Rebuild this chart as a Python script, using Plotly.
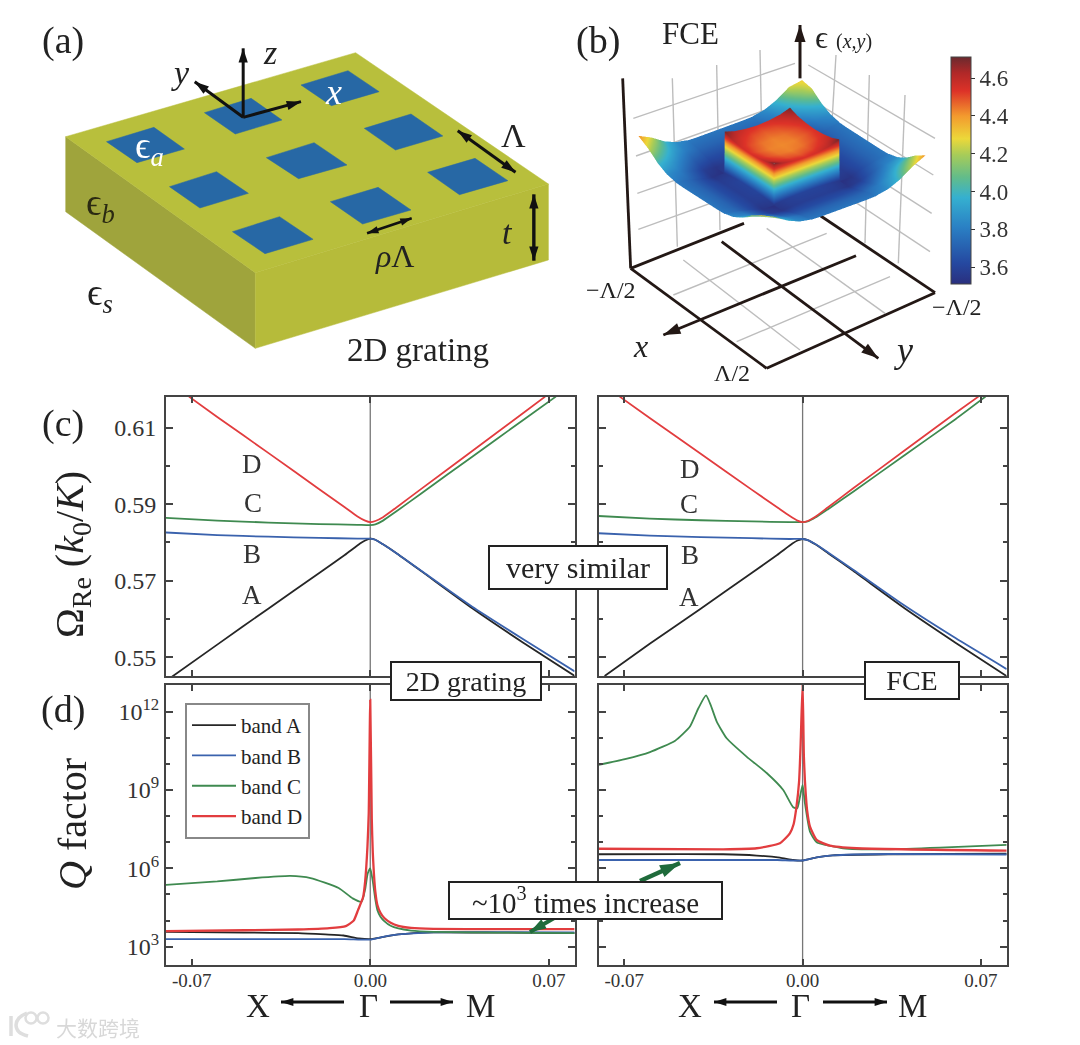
import numpy as np
import math
import plotly.graph_objects as go

SERIF = "Liberation Serif"
W, H = 1064, 1037   # figure size; the page adds an 8 px margin
OX, OY = 8, 8
# ---------- panel (c) data ----------
band_colors = {"A": "#262626", "B": "#3a62ad", "C": "#3f8a50", "D": "#e23d3f"}
cL_A_x = [-0.078,-0.06,-0.04,-0.02,-0.01,-0.004,-0.002,0,0.002,0.005,0.01,0.02,0.04,0.06,0.0802]
cL_A_y = [0.5448,0.5533,0.5627,0.572,0.5767,0.5797,0.5805,0.581,0.5807,0.5795,0.5773,0.5725,0.5628,0.5538,0.5451]
cL_B_x = [-0.0802,-0.06,-0.04,-0.02,-0.005,0,0.002,0.005,0.01,0.02,0.04,0.06,0.0802]
cL_B_y = [0.5826,0.5819,0.5815,0.5812,0.5810,0.581,0.5807,0.5795,0.5773,0.5726,0.5632,0.5547,0.5463]
cL_C_x = [-0.0802,-0.06,-0.04,-0.02,-0.005,0,0.002,0.005,0.01,0.02,0.04,0.06,0.0728]
cL_C_y = [0.5864,0.5857,0.5852,0.5848,0.5846,0.5845,0.5847,0.5857,0.588,0.5928,0.6024,0.612,0.6181]
cL_D_x = [-0.0711,-0.06,-0.04,-0.02,-0.01,-0.005,-0.002,0,0.002,0.005,0.01,0.02,0.04,0.06,0.0686]
cL_D_y = [0.6181,0.6128,0.6034,0.5939,0.5892,0.5868,0.5857,0.5853,0.5856,0.5866,0.589,0.594,0.6039,0.6138,0.6181]

cR_A_x = [-0.0777,-0.06,-0.04,-0.02,-0.01,-0.004,-0.002,0,0.002,0.005,0.01,0.02,0.04,0.06,0.080]
cR_A_y = [0.5451,0.5535,0.5627,0.572,0.5767,0.5797,0.5805,0.5809,0.5806,0.5795,0.5772,0.5725,0.5628,0.5538,0.5451]
cR_B_x = [-0.0801,-0.06,-0.04,-0.02,-0.005,0,0.002,0.005,0.01,0.02,0.04,0.06,0.0801]
cR_B_y = [0.5824,0.5818,0.5814,0.5811,0.5809,0.5809,0.5806,0.5796,0.5774,0.5728,0.5635,0.555,0.5469]
cR_C_x = [-0.0801,-0.06,-0.04,-0.02,-0.005,0,0.002,0.005,0.01,0.02,0.04,0.06,0.0718]
cR_C_y = [0.5869,0.5862,0.5858,0.5855,0.5853,0.5853,0.5855,0.5865,0.5887,0.5933,0.6028,0.6122,0.6181]
cR_D_x = [-0.0718,-0.06,-0.04,-0.02,-0.01,-0.005,-0.002,0,0.002,0.005,0.01,0.02,0.04,0.06,0.069]
cR_D_y = [0.6181,0.6125,0.6032,0.5938,0.5892,0.5869,0.5857,0.5853,0.5856,0.5867,0.5892,0.5942,0.604,0.6138,0.6181]

# ---------- panel (d) data (log10 Q) ----------
dL_A_x = [-0.0802,-0.0493,-0.0283,-0.0177,-0.0105,-0.0045,0,0.0042,0.011,0.0248,0.05,0.0802]
dL_A_y = [3.57,3.54,3.52,3.47,3.43,3.32,3.29,3.36,3.47,3.55,3.54,3.52]
dL_B_x = [-0.0802,-0.04,-0.01,0,0.0042,0.011,0.0248,0.05,0.0802]
dL_B_y = [3.29,3.29,3.29,3.27,3.36,3.47,3.55,3.56,3.55]
dL_C_x = [-0.0802,-0.06,-0.045,-0.0314,-0.0234,-0.0124,-0.0069,-0.0034,-0.002,-0.001,0,0.001,0.002,0.0028,0.004,0.0055,0.008,0.011,0.016,0.0248,0.05,0.0802]
dL_C_y = [5.37,5.5,5.63,5.71,5.63,5.25,4.85,4.72,5.2,5.8,6.0,5.5,4.8,4.4,4.15,3.98,3.8,3.7,3.62,3.57,3.54,3.52]
dL_D_x = [-0.0802,-0.0493,-0.0283,-0.016,-0.0096,-0.0065,-0.0048,-0.0028,-0.002,-0.0011,-0.0006,0,0.0006,0.001,0.002,0.0028,0.004,0.0055,0.008,0.011,0.016,0.0248,0.05,0.0802]
dL_D_y = [3.6,3.63,3.66,3.71,3.79,4.0,4.4,4.9,5.5,6.83,8.1,12.45,7.9,6.6,5.1,4.6,4.3,4.1,3.92,3.8,3.72,3.68,3.67,3.67]

dR_A_x = [-0.0801,-0.0312,-0.018,-0.0089,-0.0037,0,0.0055,0.0118,0.0342,0.0801]
dR_A_y = [6.54,6.54,6.49,6.41,6.32,6.3,6.42,6.5,6.54,6.56]
dR_B_x = [-0.0801,-0.0312,-0.01,0,0.0055,0.0118,0.0342,0.0801]
dR_B_y = [6.32,6.32,6.32,6.3,6.42,6.5,6.55,6.53]
dR_C_x = [-0.0801,-0.0697,-0.0599,-0.05,-0.0442,-0.0409,-0.0379,-0.0361,-0.0337,-0.0298,-0.022,-0.0141,-0.0076,-0.0037,-0.0021,-0.0011,0,0.0009,0.0029,0.0055,0.0159,0.0342,0.0538,0.0801]
dR_C_y = [9.96,10.18,10.45,10.89,11.43,12.13,12.62,12.26,11.62,10.98,10.28,9.65,9.0,8.34,8.30,8.7,9.2,8.5,7.4,7.0,6.77,6.73,6.79,6.9]
dR_D_x = [-0.0801,-0.0312,-0.018,-0.0089,-0.005,-0.0035,-0.0024,-0.0014,-0.0008,0,0.0005,0.0009,0.0018,0.0029,0.0055,0.0107,0.0212,0.0801]
dR_D_y = [6.75,6.73,6.77,6.96,7.34,7.7,8.36,9.3,10.66,13.1,10.3,9.39,8.2,7.6,7.09,6.87,6.77,6.68]

# ---------- panel (b) surface ----------
grid_quadrant = [0.5,0.42,0.34,0.27,0.201,0.199,0.14,0.07,0.0]
surface_quadrant = [
 [4.42,4.24,4.00,3.86,3.80,3.79,3.78,3.78,3.78],
 [4.24,4.06,3.90,3.80,3.74,3.73,3.72,3.72,3.72],
 [4.00,3.90,3.78,3.68,3.64,3.63,3.63,3.63,3.63],
 [3.86,3.80,3.68,3.58,3.54,3.54,3.57,3.58,3.58],
 [3.80,3.74,3.64,3.54,3.52,3.55,3.58,3.60,3.60],
 [3.79,3.73,3.63,3.54,3.55,4.70,4.61,4.56,4.54],
 [3.78,3.72,3.63,3.57,3.58,4.61,4.55,4.50,4.48],
 [3.78,3.72,3.63,3.58,3.60,4.56,4.50,4.45,4.43],
 [3.78,3.72,3.63,3.58,3.60,4.54,4.48,4.43,4.42],
]
back_corner_value = 4.30
colorbar_ticks = [3.6,3.8,4.0,4.2,4.4,4.6]
colorscale = [[0,"#2a2f7e"],[0.09,"#2548a0"],[0.25,"#2a80c4"],[0.38,"#35b0d0"],[0.47,"#62bc8a"],[0.57,"#a8cc58"],[0.64,"#ecd83a"],[0.74,"#f39a2e"],[0.85,"#dd3228"],[0.93,"#b02828"],[1,"#6a2a2e"]]

# ---------- schematic (a), picture coordinates ----------
TOP_FACE = [(65.7,136.7),(355.6,52.7),(548.4,184),(255.3,272.7)]
LEFT_FACE = [(65.7,136.7),(255.3,272.7),(255.3,348.3),(65.7,211.7)]
RIGHT_FACE = [(255.3,272.7),(548.4,184),(548.4,260),(255.3,348.3)]
HOLES_Z = [
 [(250,395),(387,352),(475,417),(338,458)],
 [(533,308),(668,265),(757,330),(622,372)],
 [(812,225),(948,182),(1038,245),(900,287)],
 [(432,530),(568,485),(660,550),(520,594)],
 [(712,443),(850,398),(945,465),(805,506)],
 [(995,355),(1130,312),(1222,378),(1085,420)],
 [(614,665),(750,620),(847,688),(708,731)],
 [(897,575),(1035,532),(1130,600),(990,642)],
 [(1178,487),(1315,445),(1410,512),(1270,554)],
]
def za(p): return (20+p[0]/2.89, 10+p[1]/3)
def zb(p): return (560+p[0]/3, 10+p[1]/3)

GREY_LINES_B = [
 [(337,205),(352,710)],[(470,165),(480,660)],[(600,120),(610,600)],
 [(828,135),(800,600)],[(928,195),(915,700)],[(1035,255),(1015,760)],
 [(220,325),(705,160)],[(228,438),(700,270)],[(232,550),(690,390)],[(235,658),(700,490)],
 [(745,165),(1125,385)],[(740,260),(1120,495)],[(740,370),(1115,610)],[(740,480),(1110,725)],
 [(370,750),(720,1020)],[(620,655),(975,910)],[(340,855),(800,670)],[(530,995),(990,800)],
]
BLACK_LINES_B = [
 [(188,205),(212,775)],[(212,775),(552,640)],[(212,775),(620,1075)],
 [(620,1075),(1125,848)],[(1125,848),(760,603)],
]
LOGO_ARC = [(27,1013),(19,1018),(16,1025),(19,1032),(28,1036)]
LOGO_BAR = [(11,1016),(11,1036)]
LOGO_RINGS_X = [31,43]
LOGO_RINGS_Y = [1018,1018]

fig = go.Figure()
def fx(a): return (a-OX)/W
def fy(a): return 1-(a-OY)/H
def dom_x(a,b): return [fx(a),fx(b)]
def dom_y(a,b): return [fy(b),fy(a)]

panels = [
 ("x","y",[cL_A_x,cL_B_x,cL_C_x,cL_D_x],[cL_A_y,cL_B_y,cL_C_y,cL_D_y],False),
 ("x2","y2",[cR_A_x,cR_B_x,cR_C_x,cR_D_x],[cR_A_y,cR_B_y,cR_C_y,cR_D_y],False),
 ("x3","y3",[dL_A_x,dL_B_x,dL_C_x,dL_D_x],[dL_A_y,dL_B_y,dL_C_y,dL_D_y],True),
 ("x4","y4",[dR_A_x,dR_B_x,dR_C_x,dR_D_x],[dR_A_y,dR_B_y,dR_C_y,dR_D_y],True),
]
for xa,ya,xs,ys,is_q in panels:
    for name,xv,yv in zip("ABCD",xs,ys):
        yy = list(10**np.array(yv)) if is_q else yv
        lw = 2.3 if (is_q and name=="D") else 1.8
        fig.add_trace(go.Scatter(x=xv,y=yy,mode="lines",xaxis=xa,yaxis=ya,name=f"band {name}",
            line=dict(color=band_colors[name],width=lw,shape="spline",smoothing=0.5),showlegend=(xa=="x3"),legendgroup=name))

def poly(pts,color,lc=None):
    xs=[p[0] for p in pts]+[pts[0][0]]; ys=[p[1] for p in pts]+[pts[0][1]]
    fig.add_trace(go.Scatter(x=xs,y=ys,mode="lines",fill="toself",fillcolor=color,
        line=dict(color=lc or color,width=0.5),xaxis="x5",yaxis="y5",showlegend=False,hoverinfo="skip"))
poly(LEFT_FACE,"#9fa43c"); poly(RIGHT_FACE,"#b6bb3a"); poly(TOP_FACE,"#b8bf3c")
for h in HOLES_Z: poly([za(p) for p in h],"#2768a5")
def seg_trace(p,color,width,spline=False):
    fig.add_trace(go.Scatter(x=[q[0] for q in p],y=[q[1] for q in p],mode="lines",
        line=dict(color=color,width=width,shape="spline" if spline else "linear"),xaxis="x5",yaxis="y5",showlegend=False,hoverinfo="skip"))
for seg in GREY_LINES_B: seg_trace([zb(q) for q in seg],"#bdbdbd",1.4)
for seg in BLACK_LINES_B: seg_trace([zb(q) for q in seg],"#231815",2.8)
# watermark logo
seg_trace(LOGO_ARC,"#dedede",3.5,spline=True); seg_trace(LOGO_BAR,"#dedede",3.5)
fig.add_trace(go.Scatter(x=LOGO_RINGS_X,y=LOGO_RINGS_Y,mode="markers",marker=dict(symbol="circle-open",size=11,color="#dedede",line=dict(width=2.5,color="#dedede")),
    xaxis="x5",yaxis="y5",showlegend=False,hoverinfo="skip"))

# surface
g = np.array(grid_quadrant)
grid = np.concatenate([-g, g[-2::-1]])
Q = np.array(surface_quadrant)
Z = np.block([[Q, Q[:,-2::-1]],[Q[-2::-1,:], Q[-2::-1,-2::-1]]])
Z[0,0] = back_corner_value
fig.add_trace(go.Surface(x=grid,y=grid,z=Z.T,scene="scene",colorscale=colorscale,cmin=3.51,cmax=4.712,
    showscale=True,hoverinfo="skip",
    lighting=dict(ambient=1,diffuse=0,specular=0,fresnel=0,roughness=1),
    colorbar=dict(x=fx(951),xanchor="left",y=fy(284),yanchor="bottom",lenmode="pixels",len=227,
        thicknessmode="pixels",thickness=20,outlinewidth=1,outlinecolor="#444",xpad=0,ypad=0,
        tickvals=colorbar_ticks,tickformat=".1f",ticks="outside",ticklen=4,tickcolor="#333",
        tickfont=dict(family=SERIF,size=23,color="#333"))))

AX = dict(showgrid=False,zeroline=False,showline=True,linecolor="#444",linewidth=2,mirror="allticks",
          ticks="inside",tickwidth=2,tickcolor="#444")
XT = dict(tickvals=[-0.07,0,0.07],ticklen=6)
L = dict(
 width=W,height=H,margin=dict(l=0,r=0,t=0,b=0),paper_bgcolor="white",plot_bgcolor="rgba(0,0,0,0)",
 font=dict(family=SERIF,color="#222"),
 legend=dict(x=fx(185),y=fy(703),xanchor="left",yanchor="top",font=dict(family=SERIF,size=21,color="#222"),
             bordercolor="#888",borderwidth=2,bgcolor="white",itemwidth=44,tracegroupgap=0,traceorder="normal"),
 xaxis5=dict(domain=[0,1],range=[OX,OX+W],visible=False,fixedrange=True,anchor="y5"),
 yaxis5=dict(domain=[0,1],range=[OY+H,OY],visible=False,fixedrange=True,anchor="x5"),
 scene=dict(domain=dict(x=dom_x(582,982),y=dom_y(27,287)),
   xaxis=dict(visible=False,range=[-0.5,0.5]),yaxis=dict(visible=False,range=[-0.5,0.5]),zaxis=dict(visible=False,range=[3.5,4.7]),
   aspectmode="manual",aspectratio=dict(x=1.58,y=1.58,z=0.38),bgcolor="rgba(0,0,0,0)",
   camera=dict(projection=dict(type="orthographic"),center=dict(x=0,y=0,z=0),up=dict(x=0,y=0,z=1),
        eye=dict(x=0.527*1.25,y=0.698*1.25,z=0.485*1.25))),
)
x_doms = {"L":dom_x(166,574.5),"R":dom_x(598.5,1006.7)}
c_dom = dom_y(397,676); d_dom = dom_y(685,965)
c_ticks=[0.55,0.57,0.59,0.61]; c_minor=[0.56,0.58,0.60]
d_ticks=[1e3,1e6,1e9,1e12]; d_text=["10<sup>3</sup>","10<sup>6</sup>","10<sup>9</sup>","10<sup>12</sup>"]
d_minor=[1e4,1e5,1e7,1e8,1e10,1e11,1e13]
fs_tick=dict(family=SERIF,size=24,color="#333")
XL=dict(ticktext=["-0.07","0.00","0.07"],tickfont=dict(family=SERIF,size=19,color="#333"),ticklabelstandoff=-3)
L["xaxis"]=dict(AX,**XT,domain=x_doms["L"],range=[-0.0801,0.0801],anchor="y",showticklabels=False)
L["xaxis2"]=dict(AX,**XT,domain=x_doms["R"],range=[-0.0801,0.0801],anchor="y2",showticklabels=False)
L["xaxis3"]=dict(AX,**XT,**XL,domain=x_doms["L"],range=[-0.0801,0.0801],anchor="y3")
L["xaxis4"]=dict(AX,**XT,**XL,domain=x_doms["R"],range=[-0.0801,0.0801],anchor="y4")
YC=dict(AX,range=[0.5451,0.6180],tickvals=c_ticks,ticklen=7,minor=dict(tickvals=c_minor,ticks="inside",ticklen=4,tickwidth=2,tickcolor="#444"),tickformat=".2f",tickfont=fs_tick)
L["yaxis"]=dict(YC,domain=c_dom,anchor="x",ticklabelstandoff=3)
L["yaxis2"]=dict(YC,domain=c_dom,anchor="x2",showticklabels=False)
YD=dict(AX,type="log",range=[2.30,13.02],tickvals=d_ticks,ticktext=d_text,ticklen=7,minor=dict(tickvals=d_minor,ticks="inside",ticklen=4,tickwidth=2,tickcolor="#444"),tickfont=fs_tick)
L["yaxis3"]=dict(YD,domain=d_dom,anchor="x3")
L["yaxis4"]=dict(YD,domain=d_dom,anchor="x4",showticklabels=False)
fig.update_layout(**L)

for xa,ya in [("x","y"),("x2","y2"),("x3","y3"),("x4","y4")]:
    fig.add_shape(type="line",xref=xa,yref=f"{ya} domain",x0=0,x1=0,y0=0,y1=1,line=dict(color="#777",width=1.3),layer="below")

anns=[]
def T(x,y,s,size,color="#222",rot=0,fam=SERIF):
    anns.append(dict(x=x,y=y,xref="x5",yref="y5",text=s,showarrow=False,xanchor="center",yanchor="middle",
        font=dict(family=fam,size=size,color=color),textangle=rot))
def A(p0,p1,width=3,color="#111",both=False,head=15):
    ang=math.degrees(math.atan2(p1[0]-p0[0],-(p1[1]-p0[1])))
    seg_trace((p0,p1),color,width)
    mx=[p1[0]]+([p0[0]] if both else []); my=[p1[1]]+([p0[1]] if both else [])
    ma=[ang]+([ang+180] if both else [])
    fig.add_trace(go.Scatter(x=mx,y=my,mode="markers",marker=dict(symbol="arrow",size=head,color=color,angle=ma,line=dict(width=0)),
        xaxis="x5",yaxis="y5",showlegend=False,hoverinfo="skip"))
def BOX(x0,y0,x1,y1,s,size):
    anns.append(dict(x=(x0+x1)/2,y=(y0+y1)/2,xref="x5",yref="y5",text=s,showarrow=False,width=x1-x0-4,height=y1-y0-4,
        xanchor="center",yanchor="middle",align="center",valign="middle",bgcolor="white",bordercolor="#222",borderwidth=2,borderpad=0,
        font=dict(family=SERIF,size=size,color="#222")))

T(63,40,"(a)",38); T(598,40,"(b)",38); T(63,423,"(c)",38); T(63,709,"(d)",38)
T(180,72,"<i>y</i>",34); T(270,52,"<i>z</i>",34); T(333,92,"<i>x</i>",36,"white")
T(149,148,"ϵ<sub><i>a</i></sub>",38,"white"); T(100,205,"ϵ<sub><i>b</i></sub>",38,"#2b2a12"); T(100,295,"ϵ<sub><i>s</i></sub>",38)
T(513,135,"Λ",34); T(395,256,"<i>ρ</i>Λ",32); T(507,232,"<i>t</i>",34); T(418,350,"2D grating",33)
A(za((645,322)),za((645,115))); A(za((645,322)),za((505,215))); A(za((645,322)),za((812,275)))
A(za((1265,362)),za((1432,487)),both=True); A(za((1485,553)),za((1485,752)),both=True,width=3.4)
A(za((1003,670)),za((1132,625)),both=True,head=12,width=2.6)
T(690,33,"FCE",31); T(843,37,"ϵ <span style='font-size:20px'>(<i>x,y</i>)</span>",32)
T(611,290,"−Λ/2",24); T(957,307,"−Λ/2",24); T(732,373,"Λ/2",24); T(640,346,"<i>x</i>",32); T(903,350,"<i>y</i>",36)
A(zb((720,205)),zb((720,45)),width=3,color="#231815",head=18)
A(zb((888,737)),zb((310,975)),width=2.8,color="#231815",head=18)
A(zb((485,695)),zb((955,1045)),width=2.8,color="#231815",head=18)
for x,y,s in [(252,464,"D"),(253,503,"C"),(252,554,"B"),(252,595,"A"),(690,469,"D"),(689,504,"C"),(690,555,"B"),(689,597,"A")]:
    T(x,y,s,27,"#333")
T(72,555,"Ω<sub>Re</sub> (<i>k</i><sub>0</sub>/<i>K</i>)",40,"#222",-90)
T(72,824,"<i>Q</i> factor",40,"#222",-90)
for ox,(xX,xG,xM,a0,a1,a2,a3) in {"L":(258,368,480,344,281,390,453),"R":(690,800,912,777,714,823,887)}.items():
    T(xX,1006,"X",33); T(xG,1006,"Γ",33); T(xM,1006,"M",33)
    A((a0,1002),(a1,1002),width=3,head=13); A((a2,1002),(a3,1002),width=3,head=13)
A((575,906),(530,932),width=4,color="#1f6b3b",head=17)
A((640,881),(680,863),width=4.5,color="#1f6b3b",head=21)
BOX(488,545,668,590,"very similar",30)
BOX(390,661,542,701,"2D grating",28)
BOX(864,661,960,700,"FCE",28)
BOX(448,881,723,920,"~10<sup>3</sup> times increase",29)
T(98,1027,"大数跨境",21,"#d8d8d8",fam="Noto Sans CJK SC")
fig.update_layout(annotations=anns)
fig.write_html("out.html")
